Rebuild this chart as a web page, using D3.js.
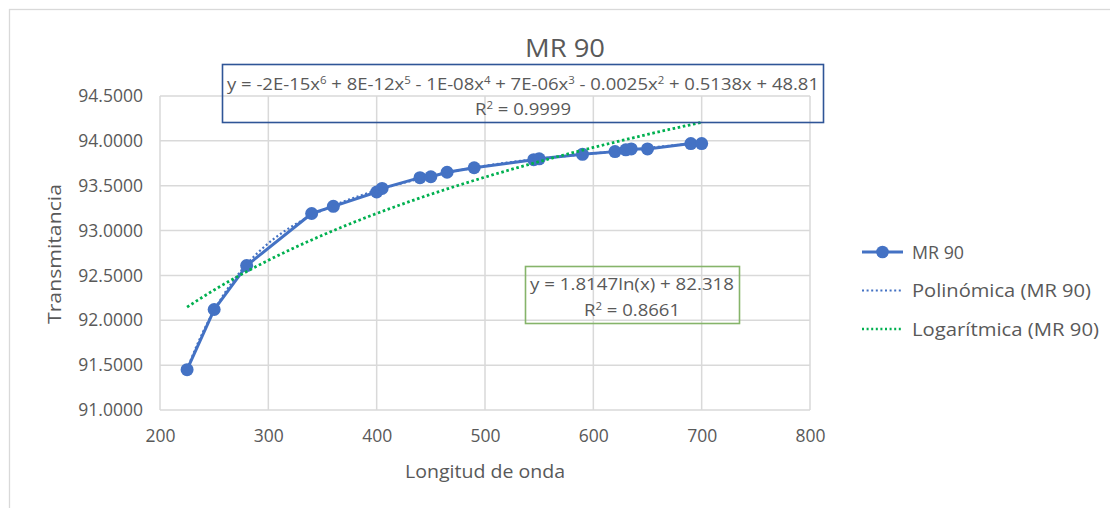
<!DOCTYPE html>
<html lang="es">
<head>
<meta charset="UTF-8">
<script src="https://d3js.org/d3.v7.min.js"></script>
<title>MR 90</title>
<style>
  body { margin: 0; background: #fff; }
  text { font-family: "Open Sans", sans-serif; fill: #595959; }
</style>
</head>
<body>
<svg id="chart"></svg>
<script>
const wavelength = [225, 250, 280, 340, 360, 400, 405, 440, 450, 465, 490, 545, 550, 590, 620, 630, 635, 650, 690, 700];
const transmittance = [91.45, 92.12, 92.61, 93.19, 93.27, 93.43, 93.47, 93.59, 93.60, 93.65, 93.70, 93.79, 93.80, 93.85, 93.88, 93.90, 93.91, 93.91, 93.97, 93.97];
const xTicks = [200, 300, 400, 500, 600, 700, 800];
const yTicks = [91.0, 91.5, 92.0, 92.5, 93.0, 93.5, 94.0, 94.5];
const seriesName = "MR 90";
const legendLabels = ["MR 90", "Polinómica (MR 90)", "Logarítmica (MR 90)"];
// trendline equations printed on the chart
const polyEq = [["y = -2E-15x", "6"], [" + 8E-12x", "5"], [" - 1E-08x", "4"], [" + 7E-06x", "3"], [" - 0.0025x", "2"], [" + 0.5138x + 48.81", ""]];
const polyR2 = "0.9999";
const logA = 1.8147, logB = 82.318;
const logR2 = "0.8661";

const width = 1110, height = 508;
const svg = d3.select("#chart").attr("width", width).attr("height", height);

// outer chart border (only top/left visible)
svg.append("rect").attr("x", 9.5).attr("y", 9.5).attr("width", 1120).attr("height", 520)
  .attr("fill", "none").attr("stroke", "#d9d9d9").attr("stroke-width", 1.3);

const x = d3.scaleLinear().domain([200, 800]).range([160, 810]);
const y = d3.scaleLinear().domain([91, 94.5]).range([410, 96]);

// grid
svg.append("g").selectAll("line").data(yTicks).join("line")
  .attr("x1", x(200)).attr("x2", x(800)).attr("y1", d => y(d)).attr("y2", d => y(d))
  .attr("stroke", "#d9d9d9").attr("stroke-width", 1.5);
svg.append("g").selectAll("line").data(xTicks).join("line")
  .attr("y1", y(91)).attr("y2", y(94.5)).attr("x1", d => x(d)).attr("x2", d => x(d))
  .attr("stroke", "#d9d9d9").attr("stroke-width", 1.5);

// axes labels
const yAxis = d3.axisLeft(y).tickValues(yTicks).tickFormat(d3.format(".4f")).tickSize(0).tickPadding(17);
svg.append("g").attr("transform", `translate(${x(200)},0)`).call(yAxis)
  .call(g => g.select(".domain").remove())
  .selectAll("text").attr("font-size", 17.5).attr("font-family", "Open Sans").attr("fill", "#595959");
const xAxis = d3.axisBottom(x).tickValues(xTicks).tickSize(0).tickPadding(20);
svg.append("g").attr("transform", `translate(0,${y(91)})`).call(xAxis)
  .call(g => g.select(".domain").remove())
  .selectAll("text").attr("font-size", 17.5).attr("font-family", "Open Sans").attr("fill", "#595959");

svg.append("text").attr("x", 485).attr("y", 478).attr("text-anchor", "middle")
  .attr("font-size", 18).attr("textLength", 160).attr("lengthAdjust", "spacingAndGlyphs").text("Longitud de onda");
svg.append("text").attr("transform", "translate(61,254) rotate(-90)").attr("text-anchor", "middle")
  .attr("font-size", 18).attr("textLength", 140).attr("lengthAdjust", "spacingAndGlyphs").text("Transmitancia");
svg.append("text").attr("x", 565).attr("y", 57).attr("text-anchor", "middle")
  .attr("font-size", 26).attr("textLength", 80).attr("lengthAdjust", "spacingAndGlyphs").text(seriesName);

// polynomial trendline: least-squares fit of degree 6 on scaled x
function polyFit(xs, ys, deg) {
  const c = 462.5, s = 237.5;
  const n = deg + 1;
  const A = Array.from({length: n}, () => new Array(n + 1).fill(0));
  xs.forEach((xv, k) => {
    const t = (xv - c) / s;
    const p = d3.range(n).map(i => Math.pow(t, i));
    for (let i = 0; i < n; i++) {
      for (let j = 0; j < n; j++) A[i][j] += p[i] * p[j];
      A[i][n] += p[i] * ys[k];
    }
  });
  for (let i = 0; i < n; i++) {
    let m = i;
    for (let r = i + 1; r < n; r++) if (Math.abs(A[r][i]) > Math.abs(A[m][i])) m = r;
    [A[i], A[m]] = [A[m], A[i]];
    for (let r = 0; r < n; r++) {
      if (r === i) continue;
      const f = A[r][i] / A[i][i];
      for (let j = i; j <= n; j++) A[r][j] -= f * A[i][j];
    }
  }
  const coef = A.map((row, i) => row[n] / row[i]);
  return xv => { const t = (xv - c) / s; return coef.reduce((acc, a, i) => acc + a * Math.pow(t, i), 0); };
}
const poly = polyFit(wavelength, transmittance, 6);
const xs = d3.range(225, 700.5, 2.5);
const line = d3.line().x(d => x(d[0])).y(d => y(d[1]));

// data line
svg.append("path").attr("d", line(wavelength.map((w, i) => [w, transmittance[i]])))
  .attr("fill", "none").attr("stroke", "#4472C4").attr("stroke-width", 3).attr("stroke-linejoin", "round");
svg.append("g").selectAll("circle").data(wavelength).join("circle")
  .attr("cx", d => x(d)).attr("cy", (d, i) => y(transmittance[i])).attr("r", 6.5).attr("fill", "#4472C4");

svg.append("path").attr("d", line(xs.map(v => [v, poly(v)])))
  .attr("fill", "none").attr("stroke", "#4472C4").attr("stroke-width", 2.2).attr("stroke-dasharray", "2,2.5");
svg.append("path").attr("d", line(xs.map(v => [v, logA * Math.log(v) + logB])))
  .attr("fill", "none").attr("stroke", "#00B050").attr("stroke-width", 2.8).attr("stroke-dasharray", "2.6,2.6");

// text with superscripts: parts = [[text, sup], ...]
function supText(g, px, py, parts, size, len) {
  const t = g.append("text").attr("x", px).attr("y", py).attr("text-anchor", "middle").attr("font-size", size);
  if (len) t.attr("textLength", len).attr("lengthAdjust", "spacingAndGlyphs");
  let shift = 0;
  parts.forEach(([s, sup]) => {
    t.append("tspan").attr("dy", -shift).attr("font-size", size).text(s);
    shift = 0;
    if (sup) { t.append("tspan").attr("dy", -6).attr("font-size", size * 0.62).text(sup); shift = -6; }
  });
  return t;
}

// equation boxes
svg.append("rect").attr("x", 222.5).attr("y", 64.5).attr("width", 601).attr("height", 58)
  .attr("fill", "none").attr("stroke", "#2F5597").attr("stroke-width", 1.6);
supText(svg, 523, 90, polyEq, 16.5, 592);
supText(svg, 523, 115, [["R", "2"], [" = " + polyR2, ""]], 16.5, 96);

svg.append("rect").attr("x", 525.5).attr("y", 266.5).attr("width", 214).attr("height", 57)
  .attr("fill", "none").attr("stroke", "#86B46A").attr("stroke-width", 1.6);
supText(svg, 632, 290, [[`y = ${logA}ln(x) + ${logB}`, ""]], 16.5, 204);
supText(svg, 632, 316, [["R", "2"], [" = " + logR2, ""]], 16.5, 96);

// legend
const legendWidths = [52, 179, 187];
const lg = svg.append("g").attr("transform", "translate(862,252)");
lg.append("line").attr("x1", 0).attr("x2", 41).attr("stroke", "#4472C4").attr("stroke-width", 3);
lg.append("circle").attr("cx", 20.5).attr("r", 6.3).attr("fill", "#4472C4");
lg.append("line").attr("x1", 0).attr("x2", 41).attr("y1", 38.5).attr("y2", 38.5)
  .attr("stroke", "#4472C4").attr("stroke-width", 2).attr("stroke-dasharray", "2,2.6");
lg.append("line").attr("x1", 0).attr("x2", 41).attr("y1", 77).attr("y2", 77)
  .attr("stroke", "#00B050").attr("stroke-width", 2.4).attr("stroke-dasharray", "2,2.6");
lg.selectAll("text.lab").data(legendLabels).join("text").attr("class", "lab")
  .attr("x", 50).attr("y", (d, i) => i * 38.5 + 6.5).attr("font-size", 17.5)
  .attr("textLength", (d, i) => legendWidths[i]).attr("lengthAdjust", "spacingAndGlyphs").text(d => d);
</script>
</body>
</html>
